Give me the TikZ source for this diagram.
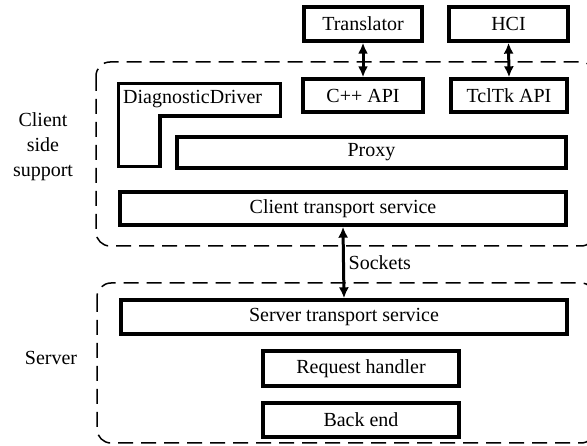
\documentclass[tikz,border=0pt]{standalone}
\usepackage{fontspec}
\setmainfont{Liberation Serif}
\usetikzlibrary{arrows.meta,calc}
\begin{document}
\begin{tikzpicture}[x=1pt,y=-1pt,
  box/.style={draw, line width=3.4pt, inner sep=0pt, font=\fontsize{20}{24}\selectfont},
  grp/.style={draw, line width=1.5pt, dash pattern=on 15pt off 8pt, rounded corners=14pt},
  lab/.style={font=\fontsize{20}{25}\selectfont, align=center, inner sep=0pt},
  biarrow/.style={line width=3pt, {Latex[length=11pt,width=10pt]}-{Latex[length=11pt,width=10pt]}}]
\useasboundingbox (0,0) rectangle (587,446);
\clip (0,0) rectangle (587,446);
\fill[white] (0,0) rectangle (587,446);
% groups
\draw[grp] (96,62) rectangle (595,246);
\draw[grp] (97,283) rectangle (595,443);
% boxes
\node[box, minimum width=118pt, minimum height=34pt] (trans) at (363,24) {Translator};
\node[box, minimum width=119pt, minimum height=34pt] (hci) at (508.5,24) {HCI};
\node[box, minimum width=120pt, minimum height=33pt] (cpp) at (363,95.5) {C++ API};
\node[box, minimum width=116pt, minimum height=33pt] (tcl) at (509,95.5) {TclTk API};
\node[box, minimum width=389pt, minimum height=31pt] (proxy) at (371.5,152.5) {Proxy};
\node[box, minimum width=446pt, minimum height=33pt] (cts) at (343,208.5) {Client transport service};
\node[box, minimum width=446pt, minimum height=34pt] (sts) at (344,317) {Server transport service};
\node[box, minimum width=196pt, minimum height=35pt] (req) at (361,368.5) {Request handler};
\node[box, minimum width=196pt, minimum height=34pt] (back) at (361,420) {Back end};
% DiagnosticDriver L-shape
\draw[line width=3.4pt, line join=miter] (118.5,83.5) -- (280.5,83.5) -- (280.5,116) -- (160,116) -- (160,166.5) -- (118.5,166.5) -- cycle;
\node[font=\fontsize{20}{24}\selectfont, anchor=west, inner sep=0pt] (diag) at (123,99) {DiagnosticDriver};
% labels
\node[lab] (client) at (43,147) {Client\\side\\support};
\node[lab] (server) at (51,358) {Server};
% arrows
\draw[biarrow] (trans.south) -- (cpp.north);
\draw[biarrow] (hci.south) -- (tcl.north);
\draw[biarrow] (cts.south) -- (sts.north);
\node[lab, anchor=west] (sockets) at ($(cts.south)!0.5!(sts.north)+(5,0)$) {Sockets};
\end{tikzpicture}
\end{document}
